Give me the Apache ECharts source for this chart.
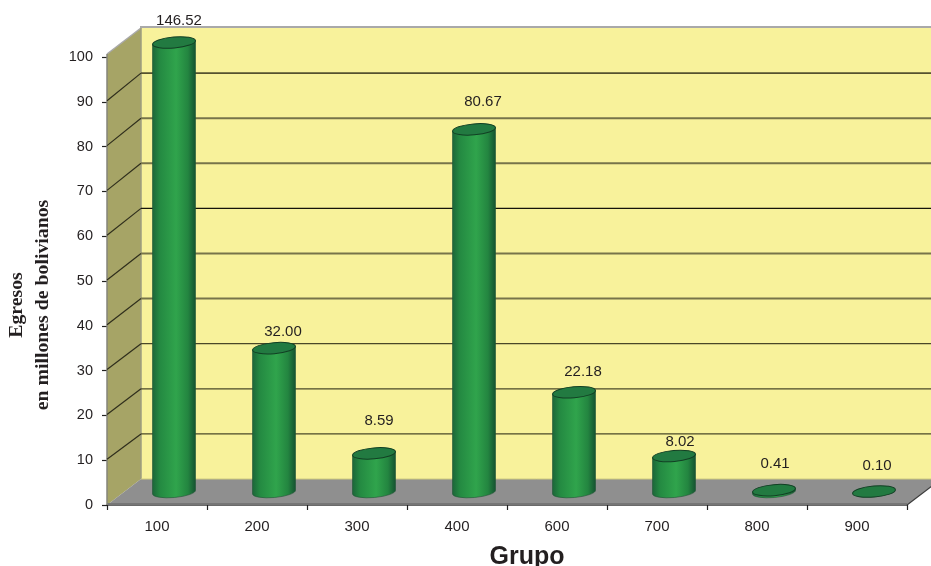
<!DOCTYPE html>
<html><head><meta charset="utf-8">
<style>html,body{margin:0;padding:0;background:#fff;overflow:hidden}#c{width:931px;height:566px}</style>
<script src="https://cdn.jsdelivr.net/npm/echarts@6/dist/echarts.min.js"></script>
</head><body><div id="c"></div>
<script>
const categories = ['100','200','300','400','600','700','800','900'];
const egresos = [146.52,32.00,8.59,80.67,22.18,8.02,0.41,0.10];
const yTicks = [10,20,30,40,50,60,70,80,90];
const yMax = 100, yInterval = 10;
const yTitle = 'Egresos\nen millones de bolivianos';
const xTitle = 'Grupo';

// layout of the fake 3D box
const DEPTH_X = 34, DEPTH_Y0 = 26, DEPTH_Y1 = 29;
const backDy = v => DEPTH_Y0 + (DEPTH_Y1 - DEPTH_Y0) * v / yMax;
// hand-placed label offsets in the reference (dx from bar axis, dy above bar top)
const labelNudge = [[5,22],[9,16],[5,33],[9,28],[9,20],[6,14],[1,26],[3,26]];
const lineLook = {10:['#4a4828',1.4],20:['#4a4828',1.2],30:['#4a4828',1.2],40:['#77744a',2],50:['#77744a',2],60:['#15140a',1.2],70:['#77744a',2],80:['#77744a',2],90:['#55522f',1.8]};

const chart = echarts.init(document.getElementById('c'), null, {renderer:'canvas'});

function renderBox(params, api){
  const cs = params.coordSys;
  const x0 = cs.x, x1 = cs.x + cs.width;
  const yB = api.coord([0,0])[1], yT = api.coord([0,yMax])[1];
  const bx0 = x0 + DEPTH_X, bx1 = x1 + DEPTH_X;
  const byB = yB - backDy(0), byT = yT - backDy(yMax);
  const poly = (points, fill, extra) => ({type:'polygon', shape:{points}, style:Object.assign({fill}, extra||{})});
  return {type:'group', children:[
    poly([[bx0,byT],[bx1,byT],[bx1,byB],[bx0,byB]], '#f8f29b'),
    poly([[x0,yT-3],[bx0,byT],[bx0,byB],[x0,yB]], '#a6a466'),
    poly([[x0,yB],[bx0,byB],[bx1,byB],[x1,yB]], '#8f8f8f'),
    poly([[x0,yB-2],[x1,yB-2],[x1,yB],[x0,yB]], '#767676'),
    {type:'line', shape:{x1:bx0-1,y1:byT-1,x2:bx1,y2:byT-1}, style:{stroke:'#a9a9a9',lineWidth:2}},
    {type:'line', shape:{x1:x0,y1:yT-3,x2:bx0,y2:byT}, style:{stroke:'#a9a9a9',lineWidth:1.5}},
    {type:'line', shape:{x1:bx0,y1:byT,x2:bx0,y2:byB}, style:{stroke:'#9d9d80',lineWidth:1.5}},
    {type:'line', shape:{x1:x0,y1:yT-3,x2:x0,y2:yB}, style:{stroke:'#85857a',lineWidth:1.5}},
    {type:'line', shape:{x1:x1,y1:yB,x2:bx1,y2:byB}, style:{stroke:'#3c3c3c',lineWidth:1.2}},
    {type:'line', shape:{x1:bx0,y1:byB,x2:bx1,y2:byB}, style:{stroke:'#d0cc80',lineWidth:1}}
  ]};
}
function renderGrid(params, api){
  const v = api.value(1), cs = params.coordSys;
  const p = api.coord([0,v]);
  const x0 = cs.x, bx0 = x0 + DEPTH_X, bx1 = x0 + cs.width + DEPTH_X, by = p[1] - backDy(v);
  const look = lineLook[v];
  return {type:'group', children:[
    {type:'line', shape:{x1:x0,y1:p[1]-1,x2:bx0,y2:by}, style:{stroke:'#2f2e1c',lineWidth:1.2}},
    {type:'line', shape:{x1:bx0,y1:by,x2:bx1,y2:by}, style:{stroke:look[0],lineWidth:look[1]}}
  ]};
}
function renderCyl(params, api){
  const i = api.value(0), v = api.value(1);
  const shown = Math.min(v, yMax);
  const band = api.size([1,0])[0];
  const rx = band * 0.215, ry = 5.5, tilt = -5;
  const c0 = api.coord([i,0]), c1 = api.coord([i,shown]);
  const cx = c0[0] + DEPTH_X/2;
  const yb = c0[1] - backDy(0)/2, yt = c1[1] - backDy(shown)/2;
  const dy = rx * Math.tan(tilt*Math.PI/180);
  const L = cx - rx, R = cx + rx;
  const body = `M${L} ${yt-dy} L${L} ${yb-dy} A${rx} ${ry} ${tilt} 0 0 ${R} ${yb+dy} L${R} ${yt+dy} Z`;
  const grad = new echarts.graphic.LinearGradient(0,0,1,0,[
    {offset:0,color:'#1c6438'},{offset:0.18,color:'#248a42'},{offset:0.55,color:'#30a44c'},
    {offset:0.82,color:'#238540'},{offset:1,color:'#155030'}]);
  const n = labelNudge[params.dataIndexInside];
  const kids = [];
  if (yb - yt > 1) kids.push({type:'path', shape:{pathData:body}, style:{fill:grad, stroke:'#1e5534', lineWidth:0.6}});
  kids.push({type:'ellipse', shape:{cx:0,cy:0,rx,ry}, x:cx, y:yt, rotation:-tilt*Math.PI/180,
    style:{fill:'#227a41', stroke:'#123f24', lineWidth:1}});
  kids.push({type:'text', x:cx+n[0], y:yt-n[1], style:{text:v.toFixed(2), font:'15px "Liberation Sans", Arial, sans-serif', fill:'#231f20', align:'center', verticalAlign:'middle'}});
  return {type:'group', children:kids};
}

chart.setOption({
  animation:false,
  backgroundColor:'#fff',
  grid:{left:107,right:24,top:57,bottom:61,outerBoundsMode:'none',containLabel:false},
  xAxis:{type:'category',data:categories,boundaryGap:true,
    axisLine:{show:true,lineStyle:{color:'#3a3a3a',width:1.5}},
    axisTick:{show:true,alignWithLabel:false,length:5,inside:false,lineStyle:{color:'#222',width:1.2}},
    axisLabel:{color:'#231f20',fontFamily:'"Liberation Sans", Arial, sans-serif',fontSize:15,margin:14},
    splitLine:{show:false},
    name:xTitle,nameLocation:'middle',nameGap:38,
    nameTextStyle:{fontFamily:'"Liberation Sans", Arial, sans-serif',fontWeight:'bold',fontSize:25,color:'#231f20',padding:[2,0,0,40]}},
  yAxis:{type:'value',min:0,max:yMax,interval:yInterval,
    axisLine:{show:false},
    axisTick:{show:true,length:5,lineStyle:{color:'#222',width:1.2}},
    axisLabel:{color:'#231f20',fontFamily:'"Liberation Sans", Arial, sans-serif',fontSize:14.5,margin:14},
    splitLine:{show:false},
    name:yTitle,nameLocation:'middle',nameRotate:90,nameGap:51,
    nameTextStyle:{fontFamily:'"Liberation Serif", "Times New Roman", serif',fontWeight:'bold',fontSize:19.8,lineHeight:26,color:'#231f20',align:'center',padding:[0,48,0,0]}},
  series:[
    {type:'custom',coordinateSystem:'cartesian2d',z:1,silent:true,data:[[0,0]],renderItem:renderBox,clip:false},
    {type:'custom',coordinateSystem:'cartesian2d',z:3,silent:true,data:yTicks.map(t=>[0,t]),renderItem:renderGrid,clip:false},
    {type:'custom',coordinateSystem:'cartesian2d',z:5,silent:true,data:egresos.map((v,i)=>[i,v]),renderItem:renderCyl,clip:false}
  ]
});
</script></body></html>
